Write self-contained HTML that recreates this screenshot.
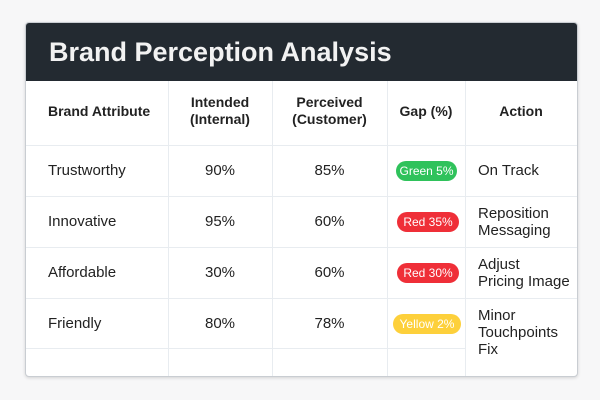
<!DOCTYPE html>
<html><head><meta charset="utf-8"><style>
body{margin:0;width:600px;height:400px;background:#f7f7f8;font-family:"Liberation Sans",sans-serif;position:relative;overflow:hidden}
.card{position:absolute;left:25px;top:22px;width:551px;height:353px;background:#fff;border:1px solid #c9cdd2;border-radius:4px;box-shadow:0 1px 3px rgba(0,0,0,.15);overflow:hidden}
.hdr{position:absolute;left:0;top:0;width:551px;height:58px;background:#232a31;color:#f2f2f2;font-size:27px;font-weight:bold;line-height:58px;padding-left:23px;box-sizing:border-box}
.t{position:absolute;font-size:15px;color:#222;line-height:17px}
.c{text-align:center}
.b{font-weight:bold;font-size:14px}
.vl{position:absolute;top:58px;bottom:0;width:1px;background:#e8ecf0}
.hl{position:absolute;left:0;width:551px;height:1px;background:#e8ecf0}
.badge{position:absolute;height:20px;line-height:20px;border-radius:10px;font-size:12px;color:#fff;text-align:center}
</style></head><body>
<div class="card">
<div class="hdr">Brand Perception Analysis</div>
<div class="vl" style="left:142px"></div><div class="vl" style="left:246px"></div><div class="vl" style="left:361px"></div><div class="vl" style="left:439px"></div>
<div class="hl" style="top:122px"></div><div class="hl" style="top:173px"></div><div class="hl" style="top:224px"></div><div class="hl" style="top:275px"></div><div class="hl" style="top:325px;width:440px"></div>
<div class="t b" style="left:22px;top:80px">Brand Attribute</div>
<div class="t b c" style="left:142px;width:104px;top:71px">Intended<br>(Internal)</div>
<div class="t b c" style="left:246px;width:115px;top:71px">Perceived<br>(Customer)</div>
<div class="t b c" style="left:361px;width:78px;top:80px">Gap (%)</div>
<div class="t b c" style="left:439px;width:112px;top:80px">Action</div>

<div class="t" style="left:22px;top:139px">Trustworthy</div>
<div class="t c" style="left:142px;width:104px;top:139px">90%</div>
<div class="t c" style="left:246px;width:115px;top:139px">85%</div>
<div class="badge" style="left:370px;width:61px;top:138px;background:#2fc25b">Green 5%</div>
<div class="t" style="left:452px;top:139px">On Track</div>

<div class="t" style="left:22px;top:190px">Innovative</div>
<div class="t c" style="left:142px;width:104px;top:190px">95%</div>
<div class="t c" style="left:246px;width:115px;top:190px">60%</div>
<div class="badge" style="left:371px;width:62px;top:189px;background:#ef2f38">Red 35%</div>
<div class="t" style="left:452px;top:182px">Reposition<br>Messaging</div>

<div class="t" style="left:22px;top:241px">Affordable</div>
<div class="t c" style="left:142px;width:104px;top:241px">30%</div>
<div class="t c" style="left:246px;width:115px;top:241px">60%</div>
<div class="badge" style="left:371px;width:62px;top:240px;background:#ef2f38">Red 30%</div>
<div class="t" style="left:452px;top:233px">Adjust<br>Pricing Image</div>

<div class="t" style="left:22px;top:292px">Friendly</div>
<div class="t c" style="left:142px;width:104px;top:292px">80%</div>
<div class="t c" style="left:246px;width:115px;top:292px">78%</div>
<div class="badge" style="left:367px;width:68px;top:291px;background:#fdd03b">Yellow 2%</div>
<div class="t" style="left:452px;top:284px">Minor<br>Touchpoints<br>Fix</div>
</div>
</body></html>
